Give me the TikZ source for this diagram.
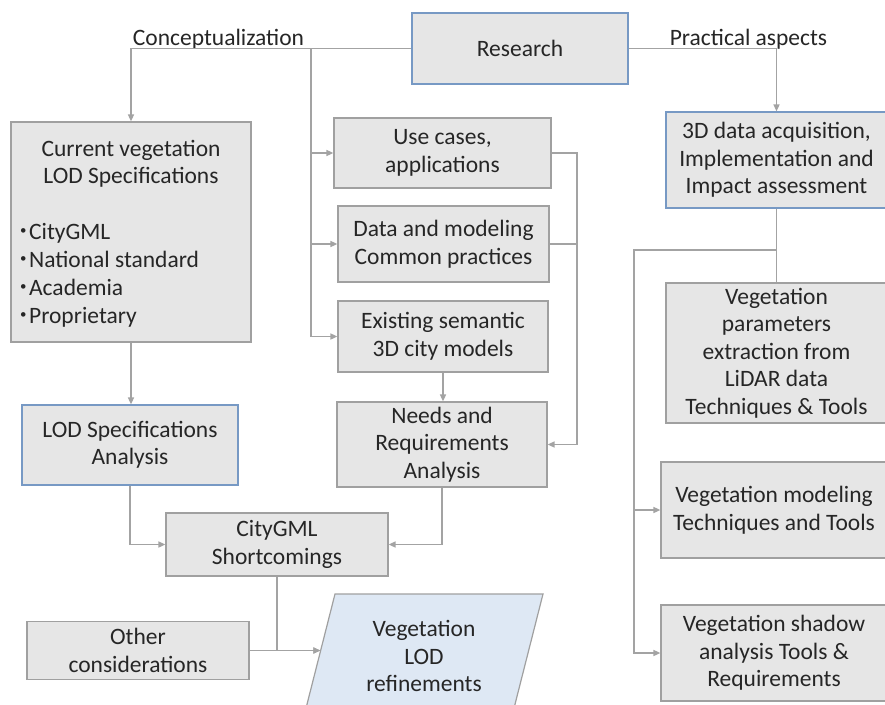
\documentclass[tikz,border=0pt]{standalone}
\usepackage{fontspec}
\setmainfont{Carlito}
\usetikzlibrary{arrows.meta}
\definecolor{boxfill}{HTML}{E6E6E6}
\definecolor{boxline}{HTML}{A0A0A0}
\definecolor{blueline}{HTML}{7799C4}
\definecolor{conn}{HTML}{A3A3A3}
\definecolor{parfill}{HTML}{DEE8F4}
\definecolor{txtcol}{HTML}{262626}
\newcommand{\smallbul}{\raisebox{4.5pt}{\scalebox{0.55}{\textbullet}}\hspace{2.5pt}}
\tikzset{
  box/.style={draw=boxline, line width=1.2pt, fill=boxfill, align=center, inner sep=2pt,
    text=txtcol, font=\fontsize{23.5}{27.5}\selectfont},
  bluebox/.style={box, draw=blueline},
  txt/.style={inner sep=0pt, text=txtcol, font=\fontsize{23.5}{27.5}\selectfont},
  line/.style={draw=conn, line width=1.5pt},
  arr/.style={line, -{Triangle[length=7pt,width=6pt]}},
}
\begin{document}
\begin{tikzpicture}[x=1pt,y=-1pt]
\useasboundingbox (0,0) rectangle (885,704);
\clip (0,0) rectangle (885,704);
\fill[white] (0,0) rectangle (885,704);

% boxes
\node[bluebox, line width=1.6pt, minimum width=216pt, minimum height=71pt] (research) at (520,48.5) {Research};
\node[box, minimum width=240pt, minimum height=220pt] (current) at (131,232) {};
\node[txt, anchor=base] (curt1) at (131,156) {Current vegetation};
\node[txt, anchor=base] (curt2) at (131,183) {LOD Specifications};
\node[txt, anchor=base west] (b1) at (20,239) {\smallbul CityGML};
\node[txt, anchor=base west] (b2) at (20,267) {\smallbul National standard};
\node[txt, anchor=base west] (b3) at (20,295) {\smallbul Academia};
\node[txt, anchor=base west] (b4) at (20,323) {\smallbul Proprietary};

\node[box, minimum width=217pt, minimum height=70pt] (usecases) at (442.5,153) {Use cases,\\applications};
\node[box, minimum width=211pt, minimum height=76pt] (data) at (443.5,244) {Data and modeling\\Common practices};
\node[box, minimum width=210pt, minimum height=71pt] (existing) at (443,336.5) {Existing semantic\\3D city models};
\node[box, minimum width=210pt, minimum height=85pt] (needs) at (442,444.5) {Needs and\\Requirements\\Analysis};
\node[bluebox, minimum width=216pt, minimum height=80pt] (lodanal) at (130,445) {LOD Specifications\\Analysis};
\node[box, minimum width=222pt, minimum height=63pt] (citygml) at (277,544.5) {CityGML\\Shortcomings};
\node[box, minimum width=222pt, minimum height=58pt] (other) at (138,650.5) {Other\\considerations};

% parallelogram
\filldraw[fill=parfill, draw=boxline, line width=1.2pt]
  (335,594) -- (543,594) -- (511,720) -- (303,720) -- cycle;
\node[txt, align=center] (vlod) at (424,656) {Vegetation\\LOD\\refinements};
\coordinate (vl) at (320.3,650.5);

\node[bluebox, minimum width=221pt, minimum height=96pt] (threeD) at (776.5,160) {3D data acquisition,\\Implementation and\\Impact assessment};
\node[box, minimum width=221pt, minimum height=140pt] (vegparams) at (776.5,353) {Vegetation\\parameters\\extraction from\\LiDAR data\\Techniques \& Tools};
\node[box, minimum width=226pt, minimum height=96pt] (vegmodel) at (774,510) {Vegetation modeling\\Techniques and Tools};
\node[box, minimum width=226pt, minimum height=96pt] (vegshadow) at (774,653) {Vegetation shadow\\analysis Tools \&\\Requirements};

% labels
\node[txt, anchor=base] (concept) at (218.5,45) {Conceptualization};
\node[txt, anchor=base] (practical) at (748.5,45) {Practical aspects};

% connectors left
\coordinate (cb) at (311,48.5);
\draw[arr] (research.west) -| (current.north);
\draw[line] (cb) -- (311,336.5);
\draw[arr] (cb) |- (usecases.west);
\draw[arr] (cb) |- (data.west);
\draw[arr] (cb) |- (existing.west);
\coordinate (rc) at (577,153);
\draw[arr] (usecases.east) -- (rc) |- (needs.east);
\draw[line] (data.east) -- (data.east -| rc);
\draw[arr] (existing.south) -- (existing.south |- needs.north);
\draw[arr] (current.south) -- (current.south |- lodanal.north);
\draw[arr] (lodanal.south) |- (citygml.west);
\draw[arr] (needs.south) |- (citygml.east);
\draw[arr] (citygml.south) |- (vl);
\draw[arr] (other.east) -- (vl);

% connectors right
\draw[arr] (research.east) -| (threeD.north);
\draw[line] (threeD.south) -- (vegparams.north);
\coordinate (rb) at (634,250);
\draw[arr] (threeD.south |- rb) -- (rb) |- (vegshadow.west);
\draw[arr] (rb) |- (vegmodel.west);
\end{tikzpicture}
\end{document}
